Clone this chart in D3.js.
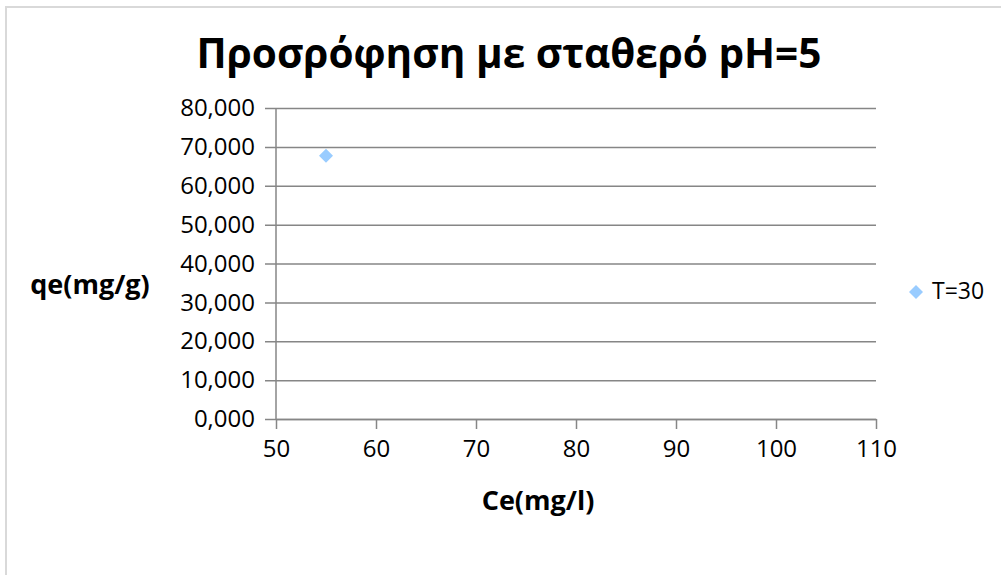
<!DOCTYPE html>
<html>
<head>
<meta charset="utf-8">
<script src="https://cdn.jsdelivr.net/npm/d3@7"></script>
<style>
  body { margin: 0; background: #fff; }
  text { font-family: "Open Sans", "Noto Sans", sans-serif; }
</style>
</head>
<body>
<svg width="1001" height="575"></svg>
<script>
const svg = d3.select("svg");

const width = +svg.attr("width");
const height = +svg.attr("height");

const seriesName = "T=30";
const ceValues = [55];
const qeValues = [67.7];
const xTicks = [50, 60, 70, 80, 90, 100, 110];
const yTicks = [0, 10, 20, 30, 40, 50, 60, 70, 80];

const data = ceValues.map((c, i) => ({ ce: c, qe: qeValues[i] }));

// chart frame: only its left and top edges fall inside the picture
svg.append("path")
  .attr("d", `M6,${height} L6,7 L${width},7`)
  .attr("fill", "none")
  .attr("stroke", "#d9d9d9")
  .attr("stroke-width", 2);

const margin = { top: 108, left: 276 };
const innerWidth = 600;
const innerHeight = 311;

const xScale = d3.scaleLinear().domain([50, 110]).range([0, innerWidth]);
const yScale = d3.scaleLinear().domain([0, 80]).range([innerHeight, 0]);

const g = svg.append("g")
  .attr("transform", `translate(${margin.left},${margin.top})`);

const fmt = (d) => d3.format(",.3f")(d).replace(".", ",");

// gridlines + y axis
const yAxis = d3.axisLeft(yScale)
  .tickValues(yTicks)
  .tickFormat(fmt)
  .tickSize(-innerWidth)
  .tickPadding(21);
const yAxisG = g.append("g").call(yAxis);
yAxisG.select(".domain").remove();
yAxisG.selectAll(".tick line")
  .attr("x1", -11)
  .attr("stroke", "#868686")
  .attr("stroke-width", 1.5);
yAxisG.selectAll(".tick text")
  .attr("font-size", 24)
  .attr("fill", "#000");

g.append("line")
  .attr("x1", 0).attr("x2", 0)
  .attr("y1", 0).attr("y2", innerHeight)
  .attr("stroke", "#868686")
  .attr("stroke-width", 1.5);

// x axis
const xAxis = d3.axisBottom(xScale)
  .tickValues(xTicks)
  .tickSize(10)
  .tickPadding(11)
  .tickSizeOuter(0);
const xAxisG = g.append("g")
  .attr("transform", `translate(0,${innerHeight})`)
  .call(xAxis);
xAxisG.select(".domain").attr("stroke", "#868686").attr("stroke-width", 1.5);
xAxisG.selectAll(".tick line").attr("stroke", "#868686").attr("stroke-width", 1.5);
xAxisG.selectAll(".tick text").attr("font-size", 24).attr("fill", "#000");

// points
const diamond = d3.symbol().type(d3.symbolDiamond2).size(125);
g.selectAll("path.pt")
  .data(data)
  .join("path")
  .attr("class", "pt")
  .attr("d", diamond)
  .attr("fill", "#99ccff")
  .attr("transform", (d) => `translate(${xScale(d.ce)},${yScale(d.qe)})`);

// title, sized to span the same width as the original
const title = svg.append("text")
  .attr("x", 509).attr("y", 68)
  .attr("text-anchor", "middle")
  .attr("font-size", 40)
  .attr("font-weight", "bold")
  .text("Προσρόφηση με σταθερό pH=5");
const tw = title.node().getComputedTextLength();
title.attr("font-size", 40 * 625 / tw);

// axis titles
svg.append("text")
  .attr("x", 90).attr("y", 294)
  .attr("text-anchor", "middle")
  .attr("font-size", 27)
  .attr("font-weight", "bold")
  .text("qe(mg/g)");

svg.append("text")
  .attr("x", 538).attr("y", 510)
  .attr("text-anchor", "middle")
  .attr("font-size", 27)
  .attr("font-weight", "bold")
  .text("Ce(mg/l)");

// legend
svg.append("path")
  .attr("d", diamond)
  .attr("fill", "#99ccff")
  .attr("transform", "translate(916,292)");
svg.append("text")
  .attr("x", 932).attr("y", 299)
  .attr("font-size", 23)
  .text(seriesName);
</script>
</body>
</html>
